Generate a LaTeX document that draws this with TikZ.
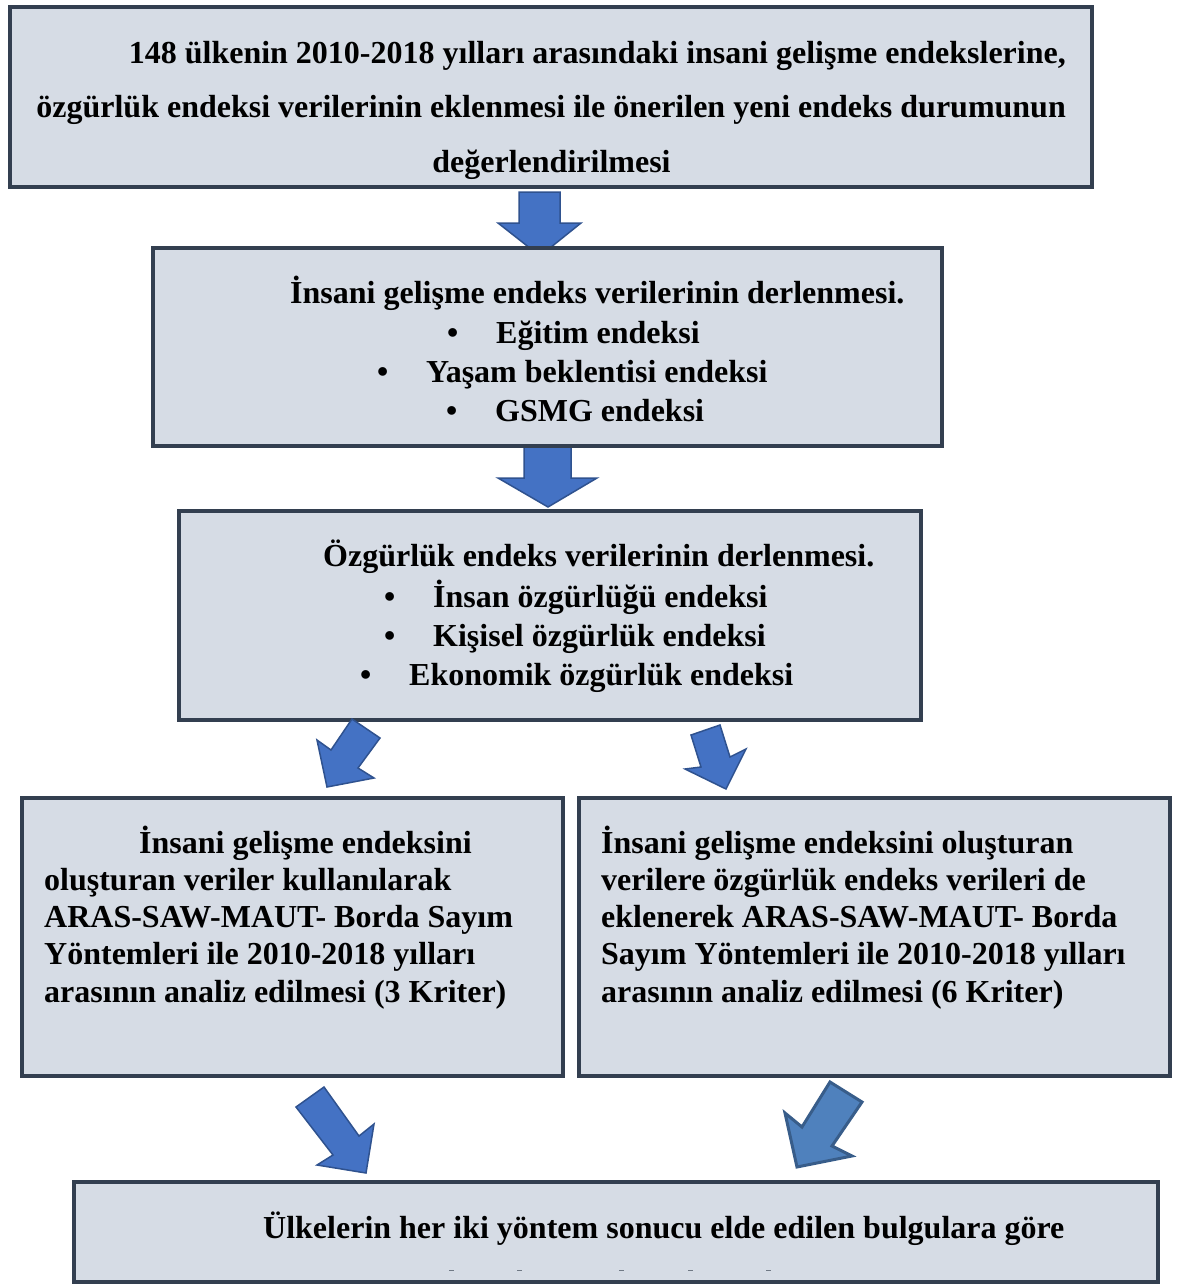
\documentclass[tikz,border=0pt]{standalone}
\usepackage{fontspec}
\setmainfont{Liberation Serif}
\definecolor{boxfill}{HTML}{D6DCE5}
\definecolor{boxline}{HTML}{333F50}
\definecolor{arrfill}{HTML}{4472C4}
\definecolor{arrline}{HTML}{2F528F}
\definecolor{arrfillb}{HTML}{4F81BD}
\definecolor{arrlineb}{HTML}{385D8A}
\newcommand{\blt}{\makebox[49pt][l]{\textbullet}}
\tikzset{
  stepbox/.style={draw=boxline, fill=boxfill, line width=4pt, inner sep=0pt},
  txt/.style={font=\fontsize{32}{37.2}\selectfont\bfseries, inner sep=0pt},
  blockarrow/.style={draw=arrline, fill=arrfill, line width=1.5pt, line join=miter},
}
\begin{document}
\begin{tikzpicture}[x=1pt,y=-1pt]
    \useasboundingbox (0,0) rectangle (1185,1286);
    % block arrows
    \draw[blockarrow] (519,192) -- (560,192) -- (560,223) -- (581,223) -- (540,256) -- (498,223) -- (519,223) -- cycle;
    \draw[blockarrow] (524,446) -- (571,446) -- (571,478) -- (597,478) -- (548,507) -- (498,478) -- (524,478) -- cycle;
    % boxes
    \node[stepbox, minimum width=1082pt, minimum height=180pt] (b1) at (551,97) {};
    \node[stepbox, minimum width=789pt, minimum height=198pt] (b2) at (547.5,347) {};
    \node[stepbox, minimum width=742pt, minimum height=209pt] (b3) at (550,615.5) {};
    \node[stepbox, minimum width=541pt, minimum height=278pt] (b4) at (292.5,937) {};
    \node[stepbox, minimum width=591pt, minimum height=278pt] (b5) at (874.5,937) {};
    \node[stepbox, minimum width=1084pt, minimum height=100pt] (b6) at (616,1232) {};
    \draw[blockarrow] (352,719) -- (380,738) -- (358,768) -- (374,778) -- (327,787) -- (317,740) -- (331,750) -- cycle;
    \draw[blockarrow] (691,735) -- (720,725) -- (730,757) -- (746,749) -- (726,789) -- (685,769) -- (701,767) -- cycle;
    \draw[blockarrow] (296,1107) -- (324,1087) -- (359,1136) -- (374,1124) -- (366,1173) -- (317,1165) -- (333,1155) -- cycle;
    \draw[blockarrow, draw=arrlineb, fill=arrfillb, line width=3pt] (830,1082) -- (862,1102) -- (832,1146) -- (852,1156) -- (797,1167) -- (785,1113) -- (802,1127) -- cycle;
    % texts of the first box
    \node[txt, anchor=base east] (t1a) at (1066,63) {148 ülkenin 2010-2018 yılları arasındaki insani gelişme endekslerine,};
    \node[txt, anchor=base east] (t1b) at (1066,117) {özgürlük endeksi verilerinin eklenmesi ile önerilen yeni endeks durumunun};
    \node[txt, anchor=base] (t1c) at (551.5,172) {değerlendirilmesi};
    % second box
    \node[txt, anchor=base west] (t2) at (290,303) {İnsani gelişme endeks verilerinin derlenmesi.};
    \node[txt, anchor=base west] (t2a) at (447,343) {\blt Eğitim endeksi};
    \node[txt, anchor=base west] (t2b) at (377,382) {\blt Yaşam beklentisi endeksi};
    \node[txt, anchor=base west] (t2c) at (446,421) {\blt GSMG endeksi};
    % third box
    \node[txt, anchor=base west] (t3) at (323,566) {Özgürlük endeks verilerinin derlenmesi.};
    \node[txt, anchor=base west] (t3a) at (384,607) {\blt İnsan özgürlüğü endeksi};
    \node[txt, anchor=base west] (t3b) at (384,646) {\blt Kişisel özgürlük endeksi};
    \node[txt, anchor=base west] (t3c) at (360,685) {\blt Ekonomik özgürlük endeksi};
    % two analyses (anchored at the last line)
    \node[txt, align=left, anchor=base west] (t4) at (44,1002) {\hspace*{95pt}İnsani gelişme endeksini\\oluşturan veriler kullanılarak\\ARAS-SAW-MAUT- Borda Sayım\\Yöntemleri ile 2010-2018 yılları\\arasının analiz edilmesi (3 Kriter)};
    \node[txt, align=left, anchor=base west] (t5) at (601,1002) {İnsani gelişme endeksini oluşturan\\verilere özgürlük endeks verileri de\\eklenerek ARAS-SAW-MAUT- Borda\\Sayım Yöntemleri ile 2010-2018 yılları\\arasının analiz edilmesi (6 Kriter)};
    % last box
    \node[txt, anchor=base west] (t6) at (263,1238) {Ülkelerin her iki yöntem sonucu elde edilen bulgulara göre};
    \foreach \dx in {449,517,619,688,766}
      \draw[boxline!70, line width=1pt] (\dx,1270) -- ++(5,0);
\end{tikzpicture}
\end{document}
